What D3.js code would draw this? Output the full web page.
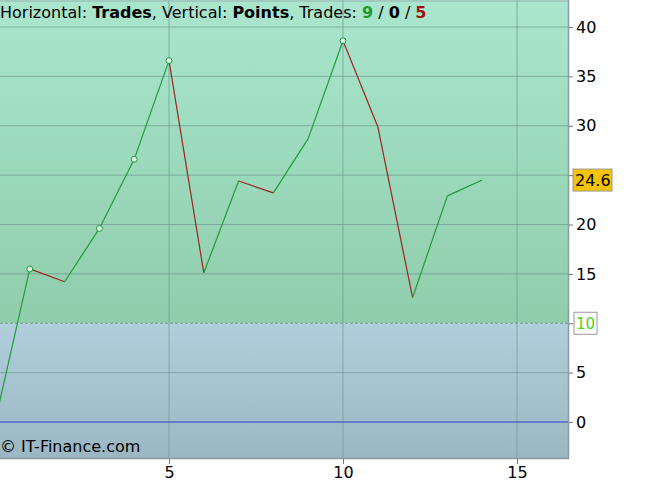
<!DOCTYPE html>
<html>
<head>
<meta charset="utf-8">
<script src="https://cdn.jsdelivr.net/npm/d3@7"></script>
<style>
  body { margin: 0; background: #fff; }
  svg text { font-family: "DejaVu Sans", "Lato", sans-serif; }
</style>
</head>
<body>
<div id="chart"></div>
<script>
// equity curve, one point per trade
var trades = [0, 1, 2, 3, 4, 5, 6, 7, 8, 9, 10, 11, 12, 13, 14];
var points = [0, 15.5, 14.2, 19.6, 26.6, 36.6, 15.1, 24.4, 23.2, 28.7, 38.6, 29.9, 12.6, 22.9, 24.5];
var newHighs = [1, 3, 4, 5, 10];
var xTicks = [5, 10, 15];
var yTicks = [0, 5, 10, 15, 20, 25, 30, 35, 40];
var threshold = 10;
var lastLabel = "24.6";

var width = 646, height = 488;
var plotW = 568, plotH = 458;

var x = d3.scaleLinear().domain([0, 15]).range([-5, 517]);
var y = d3.scaleLinear().domain([0, 40]).range([422, 27]);

var svg = d3.select("#chart").append("svg")
    .attr("width", width)
    .attr("height", height);

var defs = svg.append("defs");
var gGreen = defs.append("linearGradient").attr("id", "gGreen").attr("x1", 0).attr("x2", 0).attr("y1", 0).attr("y2", 1);
gGreen.append("stop").attr("offset", "0%").attr("stop-color", "#a9e6cd");
gGreen.append("stop").attr("offset", "100%").attr("stop-color", "#8fcdab");
var gBlue = defs.append("linearGradient").attr("id", "gBlue").attr("x1", 0).attr("x2", 0).attr("y1", 0).attr("y2", 1);
gBlue.append("stop").attr("offset", "0%").attr("stop-color", "#b0cedb");
gBlue.append("stop").attr("offset", "100%").attr("stop-color", "#9bb7c3");

// background zones
svg.append("rect")
    .attr("x", 0).attr("y", 0)
    .attr("width", plotW).attr("height", y(threshold))
    .attr("fill", "url(#gGreen)");
svg.append("rect")
    .attr("x", 0).attr("y", y(threshold))
    .attr("width", plotW).attr("height", plotH - y(threshold))
    .attr("fill", "url(#gBlue)");

// grid
svg.selectAll(".vgrid")
    .data(xTicks)
    .enter()
    .append("line")
    .attr("class", "vgrid")
    .attr("x1", function(d) { return x(d); })
    .attr("x2", function(d) { return x(d); })
    .attr("y1", 0).attr("y2", plotH)
    .style("stroke", "#6a948e")
    .style("stroke-opacity", 0.65);

svg.selectAll(".hgrid")
    .data(yTicks.filter(function(d) { return d !== 0 && d !== threshold; }))
    .enter()
    .append("line")
    .attr("class", "hgrid")
    .attr("x1", 0).attr("x2", plotW)
    .attr("y1", function(d) { return y(d); })
    .attr("y2", function(d) { return y(d); })
    .style("stroke", "#6a948e")
    .style("stroke-opacity", 0.65);

svg.append("line")
    .attr("x1", 0).attr("x2", plotW)
    .attr("y1", y(threshold)).attr("y2", y(threshold))
    .style("stroke", "#6f9a94")
    .style("stroke-dasharray", "3,2");

// zero line
svg.append("line")
    .attr("x1", 0).attr("x2", plotW)
    .attr("y1", y(0)).attr("y2", y(0))
    .style("stroke", "#2a3fc4")
    .style("stroke-width", 1.2);

// plot border
svg.append("path")
    .attr("d", "M0," + (plotH + 0.5) + "H" + (plotW + 0.5) + "V0")
    .attr("fill", "none")
    .style("stroke", "#8a9ba3")
    .style("stroke-width", 1.5);
svg.append("line")
    .attr("x1", 0).attr("x2", plotW)
    .attr("y1", 1).attr("y2", 1)
    .style("stroke", "#9aaeb0");

// equity segments: green when up, red when down
var segs = [];
for (var i = 1; i < trades.length; i++) {
    segs.push({x0: trades[i - 1], y0: points[i - 1], x1: trades[i], y1: points[i]});
}
svg.selectAll(".seg")
    .data(segs)
    .enter()
    .append("line")
    .attr("class", "seg")
    .attr("x1", function(d) { return x(d.x0); })
    .attr("y1", function(d) { return y(d.y0); })
    .attr("x2", function(d) { return x(d.x1); })
    .attr("y2", function(d) { return y(d.y1); })
    .style("stroke", function(d) { return d.y1 >= d.y0 ? "#239a3c" : "#9b2525"; })
    .style("stroke-width", 1.2);

svg.selectAll(".high")
    .data(newHighs)
    .enter()
    .append("circle")
    .attr("class", "high")
    .attr("cx", function(d) { return x(trades[d]); })
    .attr("cy", function(d) { return y(points[d]); })
    .attr("r", 3)
    .attr("fill", "#d8f5e4")
    .style("stroke", "#239a3c")
    .style("stroke-width", 1);

// right axis (10 and 25 are covered by the label boxes)
var yAxis = d3.axisRight(y).tickValues(yTicks).tickSize(4).tickPadding(3)
    .tickFormat(function(d) { return (d === threshold || d === 25) ? "" : d; });
var ya = svg.append("g").attr("transform", "translate(" + (plotW + 1) + ",0)").call(yAxis);
ya.select(".domain").remove();
ya.selectAll("line").style("stroke", "#777");
ya.selectAll("text").style("font-size", "16px").style("fill", "#000");

var xAxis = d3.axisBottom(x).tickValues(xTicks).tickSize(5).tickPadding(3);
var xa = svg.append("g").attr("transform", "translate(0," + (plotH + 1) + ")").call(xAxis);
xa.select(".domain").remove();
xa.selectAll("line").style("stroke", "#777");
xa.selectAll("text").style("font-size", "16px").style("fill", "#000");

// threshold label box
var tl = svg.append("g").attr("transform", "translate(" + (plotW + 6) + "," + y(threshold) + ")");
tl.append("rect").attr("x", 0).attr("y", -11).attr("width", 23).attr("height", 22)
    .attr("fill", "#fff").style("stroke", "#999");
tl.append("text").attr("x", 2).attr("y", 6).text(threshold)
    .style("font-size", "15px").style("fill", "#4fd02a");

// last value label
var ll = svg.append("g").attr("transform", "translate(" + (plotW + 5) + "," + y(points[points.length - 1]) + ")");
ll.append("rect").attr("x", 0).attr("y", -11).attr("width", 39).attr("height", 22)
    .attr("fill", "#f5c300").style("stroke", "#999");
ll.append("text").attr("x", 2).attr("y", 6).text(lastLabel)
    .style("font-size", "16px").style("fill", "#000");

// header
var head = svg.append("text").attr("x", 0).attr("y", 18).style("font-size", "16px").style("fill", "#000");
head.append("tspan").text("Horizontal: ");
head.append("tspan").text("Trades").style("font-weight", "bold");
head.append("tspan").text(", Vertical: ");
head.append("tspan").text("Points").style("font-weight", "bold");
head.append("tspan").text(", Trades: ");
head.append("tspan").text("9").style("font-weight", "bold").style("fill", "#1f9a2a");
head.append("tspan").text(" / ");
head.append("tspan").text("0").style("font-weight", "bold");
head.append("tspan").text(" / ");
head.append("tspan").text("5").style("font-weight", "bold").style("fill", "#a01010");

// copyright
svg.append("text").attr("x", 0).attr("y", 452).text("© IT-Finance.com")
    .style("font-size", "16px").style("fill", "#000");
</script>
</body>
</html>
